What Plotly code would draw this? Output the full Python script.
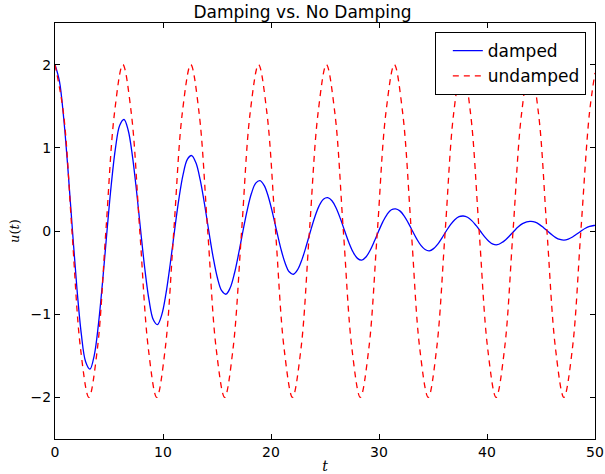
import plotly.graph_objects as go

# Damped curve, values (estimated at ~16 points per period)
t_damped = [0, 0.405, 0.81, 1.215, 1.62, 2.025, 2.43, 2.835,
            3.24, 3.634, 4.028, 4.421, 4.815, 5.209, 5.603, 5.996,
            6.39, 6.776, 7.163, 7.549, 7.935, 8.321, 8.708, 9.094,
            9.48, 9.876, 10.273, 10.669, 11.065, 11.461, 11.858, 12.254,
            12.65, 13.048, 13.445, 13.843, 14.24, 14.638, 15.035, 15.433,
            15.83, 16.224, 16.618, 17.011, 17.405, 17.799, 18.193, 18.586,
            18.98, 19.366, 19.753, 20.139, 20.525, 20.911, 21.298, 21.684,
            22.07, 22.468, 22.865, 23.263, 23.66, 24.058, 24.455, 24.853,
            25.25, 25.644, 26.038, 26.431, 26.825, 27.219, 27.613, 28.006,
            28.4, 28.793, 29.185, 29.578, 29.97, 30.363, 30.755, 31.148,
            31.54, 31.93, 32.32, 32.71, 33.1, 33.49, 33.88, 34.27,
            34.66, 35.053, 35.445, 35.838, 36.23, 36.623, 37.015, 37.408,
            37.8, 38.194, 38.588, 38.981, 39.375, 39.769, 40.163, 40.556,
            40.95, 41.34, 41.73, 42.12, 42.51, 42.9, 43.29, 43.68,
            44.07, 44.453, 44.835, 45.218, 45.6, 45.983, 46.365, 46.748,
            47.13, 47.526, 47.92, 48.318, 48.714, 49.11, 49.506, 49.902, 50]
u_damped = [2.0, 1.805, 1.349, 0.714, 0.0, -0.682, -1.23, -1.571,
            -1.66, -1.494, -1.113, -0.587, 0.0, 0.556, 0.999, 1.272,
            1.34, 1.211, 0.907, 0.481, 0.0, -0.46, -0.832, -1.064,
            -1.125, -1.011, -0.754, -0.397, 0.0, 0.377, 0.677, 0.861,
            0.907, 0.82, 0.614, 0.325, 0.0, -0.311, -0.562, -0.718,
            -0.76, -0.683, -0.508, -0.267, 0.0, 0.252, 0.453, 0.575,
            0.605, 0.548, 0.412, 0.219, 0.0, -0.211, -0.382, -0.49,
            -0.52, -0.465, -0.344, -0.18, 0.0, 0.169, 0.302, 0.382,
            0.40, 0.363, 0.273, 0.146, 0.0, -0.141, -0.256, -0.329,
            -0.35, -0.312, -0.231, -0.121, 0.0, 0.113, 0.201, 0.255,
            0.266, 0.242, 0.183, 0.098, 0.0, -0.095, -0.173, -0.223,
            -0.238, -0.212, -0.157, -0.082, 0.0, 0.077, 0.136, 0.172,
            0.18, 0.165, 0.125, 0.067, 0.0, -0.067, -0.122, -0.158,
            -0.165, -0.142, -0.104, -0.054, 0.0, 0.05, 0.088, 0.111,
            0.115, 0.106, 0.08, 0.043, 0.0, -0.043, -0.079, -0.102,
            -0.11, -0.098, -0.072, -0.037, 0.0, 0.033, 0.055, 0.066, 0.067]

# Undamped curve, values
t_undamped = [0, 0.79, 1.57, 2.36, 3.14, 3.93, 4.71, 5.5, 6.28, 7.07, 7.85, 8.64, 9.42,
              10.21, 11.0, 11.78, 12.57, 13.35, 14.14, 14.92, 15.71, 16.49, 17.28, 18.06,
              18.85, 19.63, 20.42, 21.21, 21.99, 22.78, 23.56, 24.35, 25.13, 25.92, 26.7,
              27.49, 28.27, 29.06, 29.85, 30.63, 31.42, 32.2, 32.99, 33.77, 34.56, 35.34,
              36.13, 36.91, 37.7, 38.48, 39.27, 40.06, 40.84, 41.63, 42.41, 43.2, 43.98,
              44.77, 45.55, 46.34, 47.12, 47.91, 48.69, 49.48, 50]
u_undamped = [2.0, 1.41, 0.0, -1.41, -2.0, -1.41, 0.0, 1.41, 2.0, 1.41, 0.0, -1.41, -2.0,
              -1.41, 0.0, 1.41, 2.0, 1.41, 0.0, -1.41, -2.0, -1.41, 0.0, 1.41, 2.0,
              1.41, 0.0, -1.41, -2.0, -1.41, 0.0, 1.41, 2.0, 1.41, 0.0, -1.41, -2.0,
              -1.41, 0.0, 1.41, 2.0, 1.41, 0.0, -1.41, -2.0, -1.41, 0.0, 1.41, 2.0,
              1.41, 0.0, -1.41, -2.0, -1.41, 0.0, 1.41, 2.0, 1.41, 0.0, -1.41, -2.0,
              -1.41, 0.0, 1.41, 1.9]

x_ticks = [0, 10, 20, 30, 40, 50]
y_ticks = [-2, -1, 0, 1, 2]

fig = go.Figure()
fig.add_trace(go.Scatter(x=t_damped, y=u_damped, mode="lines", name="damped",
                         line=dict(color="#0000ff", width=1.3, shape="spline", smoothing=1.0)))
fig.add_trace(go.Scatter(x=t_undamped, y=u_undamped, mode="lines", name="undamped",
                         line=dict(color="#ff0000", width=1.3, dash="6px,5px",
                                   shape="spline", smoothing=1.0)))

axis_common = dict(showgrid=False, zeroline=False, showline=True, linecolor="black",
                   linewidth=1, mirror="ticks", ticks="inside", ticklen=5, automargin=False,
                   tickcolor="black", tickfont=dict(family="DejaVu Sans", size=14, color="black"))

fig.update_layout(
    width=605, height=474,
    paper_bgcolor="white", plot_bgcolor="white",
    margin=dict(l=55, r=10, t=23, b=35),
    title=dict(text="Damping vs. No Damping", x=0.5, xanchor="center", y=0.975, yanchor="middle",
               font=dict(family="DejaVu Sans", size=17, color="black")),
    xaxis=dict(range=[0, 50], tickvals=x_ticks,
               title=dict(text="<i>t</i>", standoff=2,
                          font=dict(family="DejaVu Serif", size=14, color="black")),
               **axis_common),
    yaxis=dict(range=[-2.5, 2.5], tickvals=y_ticks,
               title=dict(text="<i>u</i>(<i>t</i>)", standoff=8,
                          font=dict(family="DejaVu Serif", size=13, color="black")),
               **axis_common),
    legend=dict(x=0.983, y=0.978, xanchor="right", yanchor="top", indentation=12,
                bordercolor="black", borderwidth=1, bgcolor="white",
                font=dict(family="DejaVu Sans", size=17, color="black")),
    showlegend=True,
)

fig.write_html("out.html", config={"displayModeBar": False},
               post_script="document.body.style.margin='0px';")
